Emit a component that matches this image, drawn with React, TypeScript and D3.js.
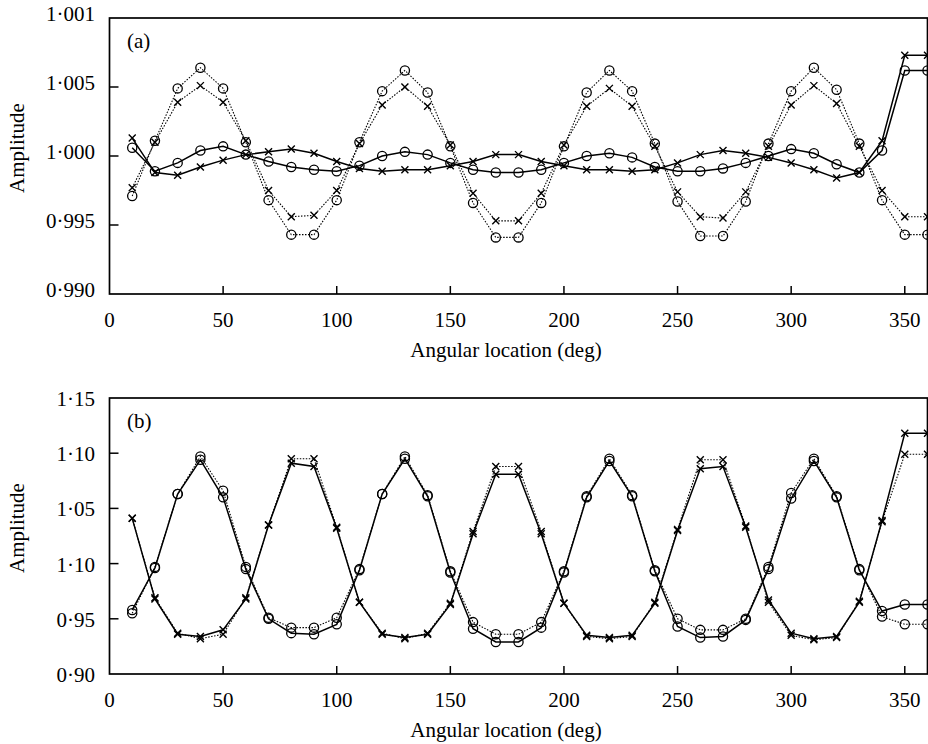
import React from "react";
import * as d3 from "d3";

// angular locations (deg)
const angles = [10, 20, 30, 40, 50, 60, 70, 80, 90, 100, 110, 120, 130, 140, 150, 160, 170, 180,
  190, 200, 210, 220, 230, 240, 250, 260, 270, 280, 290, 300, 310, 320, 330, 340, 350, 360];

// panel (a)
const aDotCircle = [0.9971, 1.0011, 1.0049, 1.0064, 1.0049, 1.001, 0.9968, 0.9943, 0.9943, 0.9968, 1.001, 1.0047,
  1.0062, 1.0046, 1.0007, 0.9966, 0.9941, 0.9941, 0.9966, 1.0007, 1.0046, 1.0062, 1.0047, 1.0009, 0.9967, 0.9942,
  0.9942, 0.9967, 1.0009, 1.0047, 1.0064, 1.0048, 1.0009, 0.9968, 0.9943, 0.9943];
const aDotCross = [0.9977, 1.001, 1.0039, 1.0051, 1.0039, 1.0011, 0.9975, 0.9956, 0.9957, 0.9975, 1.0009, 1.0037,
  1.005, 1.0036, 1.0008, 0.9973, 0.9953, 0.9953, 0.9973, 1.0008, 1.0036, 1.0049, 1.0036, 1.0007, 0.9974, 0.9956,
  0.9955, 0.9974, 1.0007, 1.0037, 1.0051, 1.0038, 1.0007, 0.9975, 0.9956, 0.9956];
const aSolidCircle = [1.0006, 0.9989, 0.9995, 1.0004, 1.0007, 1.0001, 0.9996, 0.9992, 0.999, 0.9989, 0.9993, 1.0,
  1.0003, 1.0001, 0.9995, 0.999, 0.9988, 0.9988, 0.999, 0.9995, 1.0, 1.0002, 0.9999, 0.9992, 0.9989, 0.9989,
  0.9991, 0.9995, 1.0, 1.0005, 1.0002, 0.9994, 0.9988, 1.0004, 1.0062, 1.0062];
const aSolidCross = [1.0013, 0.9988, 0.9986, 0.9992, 0.9997, 1.0001, 1.0003, 1.0005, 1.0002, 0.9996, 0.9991, 0.9989,
  0.999, 0.999, 0.9993, 0.9996, 1.0001, 1.0001, 0.9996, 0.9993, 0.999, 0.999, 0.9989, 0.999, 0.9995, 1.0001,
  1.0004, 1.0002, 0.9999, 0.9995, 0.999, 0.9984, 0.9988, 1.0011, 1.0073, 1.0073];

// panel (b)
const bSolidCircle = [0.958, 0.996, 1.063, 1.094, 1.06, 0.995, 0.95, 0.937, 0.936, 0.945, 0.994, 1.063, 1.095, 1.061,
  0.992, 0.941, 0.929, 0.929, 0.942, 0.992, 1.06, 1.093, 1.061, 0.993, 0.943, 0.933, 0.934, 0.949, 0.995, 1.059,
  1.093, 1.06, 0.994, 0.957, 0.963, 0.963];
const bDotCircle = [0.955, 0.997, 1.063, 1.097, 1.066, 0.997, 0.951, 0.942, 0.942, 0.951, 0.995, 1.063, 1.097, 1.062,
  0.993, 0.947, 0.936, 0.936, 0.947, 0.993, 1.061, 1.095, 1.062, 0.994, 0.95, 0.94, 0.94, 0.95, 0.997, 1.064, 1.095,
  1.061, 0.995, 0.952, 0.945, 0.945];
const bSolidCross = [1.041, 0.968, 0.936, 0.934, 0.94, 0.968, 1.035, 1.091, 1.088, 1.032, 0.965, 0.936, 0.933, 0.936,
  0.963, 1.027, 1.081, 1.081, 1.027, 0.964, 0.935, 0.933, 0.935, 0.964, 1.03, 1.086, 1.088, 1.033, 0.967, 0.937,
  0.932, 0.934, 0.965, 1.039, 1.118, 1.118];
const bDotCross = [1.041, 0.969, 0.937, 0.932, 0.936, 0.969, 1.035, 1.095, 1.095, 1.033, 0.965, 0.937, 0.932, 0.937,
  0.964, 1.029, 1.088, 1.088, 1.029, 0.964, 0.934, 0.932, 0.934, 0.965, 1.031, 1.094, 1.094, 1.034, 0.965, 0.935,
  0.931, 0.933, 0.966, 1.038, 1.099, 1.099];

// axis ticks (labels kept as printed)
const xTicks = [0, 50, 100, 150, 200, 250, 300, 350];
const aYTicks = [0.99, 0.995, 1.0, 1.005, 1.01];
const aYLabels = ["0·990", "0·995", "1·000", "1·005", "1·001"];
const bYTicks = [0.9, 0.95, 1.0, 1.05, 1.1, 1.15];
const bYLabels = ["0·90", "0·95", "1·10", "1·05", "1·10", "1·15"];

const font = "Liberation Serif, Times New Roman, serif";
const fs = 21;

type Series = { values: number[]; marker: "circle" | "cross"; dotted: boolean };

function Panel(props: {
  top: number;
  tag: string;
  domain: [number, number];
  yTicks: number[];
  yLabels: string[];
  labelDy: number;
  series: Series[];
  clipId: string;
}) {
  const { top, tag, domain, yTicks, yLabels, labelDy, series, clipId } = props;
  const left = 109.5,
    right = 927.5,
    bottom = top + 276;

  const x = d3.scaleLinear().domain([0, 360]).range([left, right]);
  const y = d3.scaleLinear().domain(domain).range([bottom, top]);
  const line = d3
    .line<number>()
    .x((d, i) => x(angles[i]))
    .y((d) => y(d));

  const marks = series.map((s, si) => (
    <g key={si}>
      <path
        d={line(s.values) || ""}
        fill="none"
        stroke="#000"
        strokeWidth={s.dotted ? 1.1 : 1.5}
        strokeDasharray={s.dotted ? "1.5,1.5" : undefined}
      />
      {s.values.map((v, i) => {
        const cx = x(angles[i]),
          cy = y(v);
        if (s.marker === "circle") {
          return <circle key={i} cx={cx} cy={cy} r={4.6} fill="none" stroke="#000" strokeWidth={1.3} />;
        }
        return (
          <path
            key={i}
            d={`M${cx - 3.5},${cy - 3.5}L${cx + 3.5},${cy + 3.5}M${cx - 3.5},${cy + 3.5}L${cx + 3.5},${cy - 3.5}`}
            stroke="#000"
            strokeWidth={1.4}
          />
        );
      })}
    </g>
  ));

  return (
    <g>
      <defs>
        <clipPath id={clipId}>
          <rect x={left - 10} y={top - 10} width={right - left + 10} height={bottom - top + 20} />
        </clipPath>
      </defs>
      <g clipPath={`url(#${clipId})`}>{marks}</g>
      {/* frame */}
      <rect x={left} y={top} width={right - left} height={bottom - top} fill="none" stroke="#000" strokeWidth={1.7} />
      {/* y ticks */}
      {yTicks.map((t, i) => (
        <g key={"y" + i}>
          {i > 0 && i < yTicks.length - 1 ? (
            <line x1={left} x2={left + 9} y1={y(t)} y2={y(t)} stroke="#000" strokeWidth={1.5} />
          ) : null}
          <text x={95} y={y(t) + labelDy} textAnchor="end" fontFamily={font} fontSize={fs} fill="#000">
            {yLabels[i]}
          </text>
        </g>
      ))}
      {/* x ticks */}
      {xTicks.map((t) => (
        <g key={"x" + t}>
          {t > 0 ? <line x1={x(t)} x2={x(t)} y1={bottom} y2={bottom - 8} stroke="#000" strokeWidth={1.5} /> : null}
          <text x={x(t)} y={bottom + 33} textAnchor="middle" fontFamily={font} fontSize={fs} fill="#000">
            {t}
          </text>
        </g>
      ))}
      <text x={506} y={bottom + 63} textAnchor="middle" fontFamily={font} fontSize={fs} fill="#000">
        Angular location (deg)
      </text>
      <text
        transform={`translate(24,${(top + bottom) / 2 - 8}) rotate(-90)`}
        textAnchor="middle"
        fontFamily={font}
        fontSize={fs}
        fill="#000"
      >
        Amplitude
      </text>
      <text x={127} y={top + 30} fontFamily={font} fontSize={fs} fill="#000">
        {tag}
      </text>
    </g>
  );
}

export default function App() {
  return (
    <svg width={928} height={744} style={{ position: "absolute", left: 0, top: 0, background: "#fff" }}>
      <rect width={928} height={744} fill="#fff" />
      <Panel
        top={18}
        tag="(a)"
        domain={[0.99, 1.01]}
        yTicks={aYTicks}
        yLabels={aYLabels}
        labelDy={3}
        clipId="clipA"
        series={[
          { values: aDotCircle, marker: "circle", dotted: true },
          { values: aDotCross, marker: "cross", dotted: true },
          { values: aSolidCircle, marker: "circle", dotted: false },
          { values: aSolidCross, marker: "cross", dotted: false },
        ]}
      />
      <Panel
        top={398}
        tag="(b)"
        domain={[0.9, 1.15]}
        yTicks={bYTicks}
        yLabels={bYLabels}
        labelDy={8}
        clipId="clipB"
        series={[
          { values: bDotCircle, marker: "circle", dotted: true },
          { values: bDotCross, marker: "cross", dotted: true },
          { values: bSolidCircle, marker: "circle", dotted: false },
          { values: bSolidCross, marker: "cross", dotted: false },
        ]}
      />
    </svg>
  );
}
